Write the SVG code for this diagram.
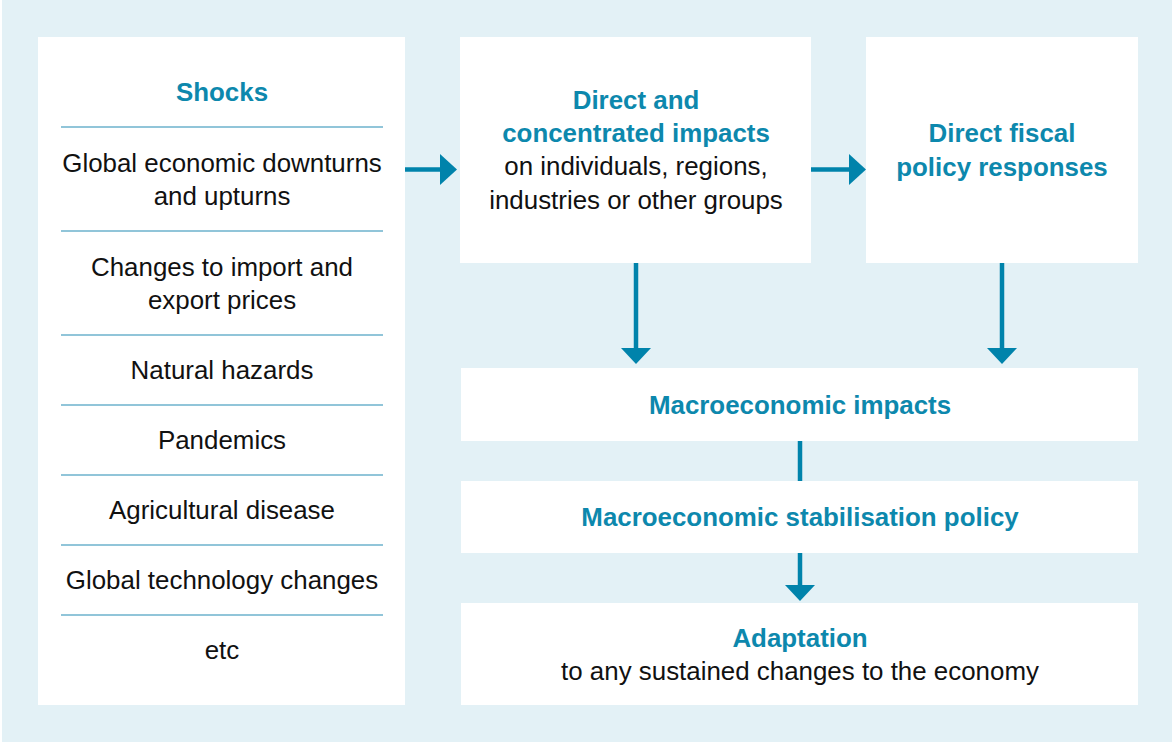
<svg xmlns="http://www.w3.org/2000/svg" width="1174" height="742" viewBox="0 0 1174 742">
  <style>
    .panel { fill: #ffffff; }
    .t { font-family: "Liberation Sans", Arial, sans-serif; font-size: 25.9px; fill: #111111; text-anchor: middle; }
    .h { font-weight: bold; fill: #0d88ad; }
    .rule { stroke: #6db2cd; stroke-width: 1.5; }
    .conn { stroke: #0083ab; stroke-width: 4.5; fill: none; }
    .head { fill: #0083ab; }
  </style>

  <rect x="2" y="0" width="1170" height="742" fill="#e3f1f6"/>

  <g id="shocks">
    <rect class="panel" x="38" y="37" width="367" height="668"/>
    <text class="t h" x="222" y="101">Shocks</text>
    <line class="rule" x1="61" y1="127" x2="383" y2="127"/>
    <text class="t" x="222" y="172">Global economic downturns</text>
    <text class="t" x="222" y="205">and upturns</text>
    <line class="rule" x1="61" y1="231" x2="383" y2="231"/>
    <text class="t" x="222" y="276">Changes to import and</text>
    <text class="t" x="222" y="309">export prices</text>
    <line class="rule" x1="61" y1="335" x2="383" y2="335"/>
    <text class="t" x="222" y="379">Natural hazards</text>
    <line class="rule" x1="61" y1="405" x2="383" y2="405"/>
    <text class="t" x="222" y="449">Pandemics</text>
    <line class="rule" x1="61" y1="475" x2="383" y2="475"/>
    <text class="t" x="222" y="519">Agricultural disease</text>
    <line class="rule" x1="61" y1="545" x2="383" y2="545"/>
    <text class="t" x="222" y="589">Global technology changes</text>
    <line class="rule" x1="61" y1="615" x2="383" y2="615"/>
    <text class="t" x="222" y="659">etc</text>
  </g>

  <g id="direct-impacts">
    <rect class="panel" x="460" y="37" width="351" height="226"/>
    <text class="t h" x="636" y="109">Direct and</text>
    <text class="t h" x="636" y="142">concentrated impacts</text>
    <text class="t" x="636" y="175">on individuals, regions,</text>
    <text class="t" x="636" y="209">industries or other groups</text>
  </g>

  <g id="fiscal-responses">
    <rect class="panel" x="866" y="37" width="272" height="226"/>
    <text class="t h" x="1002" y="142">Direct fiscal</text>
    <text class="t h" x="1002" y="176">policy responses</text>
  </g>

  <g id="macro-impacts">
    <rect class="panel" x="461" y="368" width="677" height="73"/>
    <text class="t h" x="800" y="414">Macroeconomic impacts</text>
  </g>

  <g id="stabilisation">
    <rect class="panel" x="461" y="481" width="677" height="72"/>
    <text class="t h" x="800" y="526">Macroeconomic stabilisation policy</text>
  </g>

  <g id="adaptation">
    <rect class="panel" x="461" y="603" width="677" height="102"/>
    <text class="t h" x="800" y="647">Adaptation</text>
    <text class="t" x="800" y="680">to any sustained changes to the economy</text>
  </g>

  <g id="connectors">
    <line class="conn" x1="405" y1="169.5" x2="442" y2="169.5"/>
    <path class="head" d="M440,154 L457,169.5 L440,185 Z"/>
    <line class="conn" x1="811" y1="169.5" x2="851" y2="169.5"/>
    <path class="head" d="M849,154 L866,169.5 L849,185 Z"/>
    <line class="conn" x1="636" y1="263" x2="636" y2="350"/>
    <path class="head" d="M621,348 L636,364 L651,348 Z"/>
    <line class="conn" x1="1002" y1="263" x2="1002" y2="350"/>
    <path class="head" d="M987,348 L1002,364 L1017,348 Z"/>
    <line class="conn" x1="800" y1="441" x2="800" y2="481"/>
    <line class="conn" x1="800" y1="553" x2="800" y2="587"/>
    <path class="head" d="M785,585 L800,601 L815,585 Z"/>
  </g>
</svg>
